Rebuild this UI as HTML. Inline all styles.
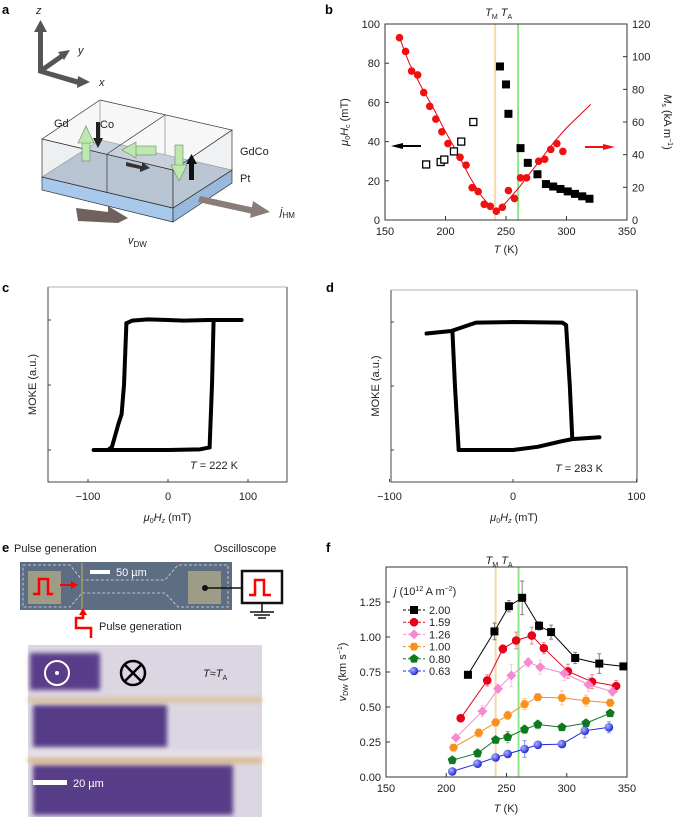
<!DOCTYPE html>
<html><head><meta charset="utf-8"><style>
body{margin:0;background:#fff}
svg{display:block;font-family:"Liberation Sans",sans-serif}
.t{font-size:11px;fill:#222}
.pl{font-size:13px;font-weight:bold;font-family:"Liberation Sans",sans-serif}
</style></head><body>
<svg id="fig" width="685" height="817" viewBox="0 0 685 817">
<defs>
<filter id="bl" x="-10%" y="-10%" width="120%" height="120%"><feGaussianBlur stdDeviation="2.5"/></filter>
<radialGradient id="bg" cx="0.35" cy="0.35" r="0.7"><stop offset="0" stop-color="#aab4ff"/><stop offset="1" stop-color="#1a22d0"/></radialGradient>
</defs>
<text class="pl" x="2" y="14">a</text>
<text class="pl" x="325" y="14">b</text>
<text class="pl" x="2" y="292">c</text>
<text class="pl" x="326" y="292">d</text>
<text class="pl" x="2" y="552">e</text>
<text class="pl" x="326" y="552">f</text>

<g>
 <g fill="#555" stroke="#555">
  <rect x="38" y="30" width="5" height="42" stroke="none"/>
  <polygon points="34,32 40.5,20 47,32" stroke="none"/>
  <polygon points="38,68 80,80 78,85 38,73" stroke="none"/>
  <polygon points="78,76 90,82 77,88" stroke="none"/>
  <line x1="42" y1="70" x2="62" y2="56" stroke-width="5"/>
  <polygon points="58,52 70,50 64,60" stroke="none"/>
  <text x="36" y="14" class="t" font-style="italic" stroke="none" fill="#222">z</text>
  <text x="78" y="54" class="t" font-style="italic" stroke="none" fill="#222">y</text>
  <text x="99" y="86" class="t" font-style="italic" stroke="none" fill="#222">x</text>
 </g>
 <g stroke="#333" stroke-width="0.7">
  <polygon points="42,177 173,208 173,222 42,190" fill="#a8c8ec"/>
  <polygon points="173,208 232,170 232,183 173,222" fill="#98b8dc"/>
  <polygon points="42,177 100,140 232,170 173,208" fill="#8a9fb8"/>
  <polygon points="42,139 173,170 173,208 42,177" fill="#dfe2e6" fill-opacity="0.55"/>
  <polygon points="173,170 232,130 232,170 173,208" fill="#e4e6e9" fill-opacity="0.55"/>
  <polygon points="42,139 100,100 232,130 173,170" fill="#f2f2f2" fill-opacity="0.6"/>
  <line x1="100" y1="100" x2="100" y2="140" stroke="#888"/>
  <line x1="165" y1="115" x2="107" y2="154" />
  <line x1="107" y1="154" x2="107" y2="193"/>
  <line x1="165" y1="115" x2="165" y2="155" stroke="#888"/>
 </g>
 <g>
  <rect x="82" y="141" width="8" height="20" fill="#bfe8b0" stroke="#6a8a60" stroke-width="0.6"/>
  <polygon points="78,143 86,126 94,143" fill="#bfe8b0" stroke="#6a8a60" stroke-width="0.6"/>
  <rect x="96" y="122" width="4" height="18" fill="#222"/><polygon points="93,138 98,148 103,138" fill="#222"/>
  <rect x="134" y="146" width="22" height="9" fill="#bfe8b0" stroke="#6a8a60" stroke-width="0.6"/>
  <polygon points="136,142 122,150 136,158" fill="#bfe8b0" stroke="#6a8a60" stroke-width="0.6"/>
  <polygon points="126,162 142,166 142,162 150,168 140,172 140,169 126,166" fill="#333"/>
  <rect x="175" y="145" width="8" height="22" fill="#bfe8b0" stroke="#6a8a60" stroke-width="0.6"/>
  <polygon points="171,165 179,181 187,165" fill="#bfe8b0" stroke="#6a8a60" stroke-width="0.6"/>
  <rect x="189" y="162" width="5" height="18" fill="#111"/><polygon points="186,164 191.5,154 197,164" fill="#111"/>
 </g>
 <g>
  <polygon points="200,196 255,208 253,214 198,202" fill="#8a7d78"/>
  <polygon points="253,201 270,212 250,218" fill="#8a7d78"/>
  <polygon points="76,208 108,212 108,206 128,218 118,223 78,221" fill="#6f625e"/>
 </g>
 <text class="t" x="54" y="127">Gd</text>
 <text class="t" x="100" y="128">Co</text>
 <text class="t" x="240" y="155">GdCo</text>
 <text class="t" x="240" y="182">Pt</text>
 <text class="t" x="280" y="215" font-style="italic">j<tspan font-size="8" dy="3" font-style="normal">HM</tspan></text>
 <text class="t" x="128" y="244" font-style="italic">v<tspan font-size="8" dy="3" font-style="normal">DW</tspan></text>
</g>

<g id="pb"></g>
<g id="pc"></g>
<g id="pd"></g>

<g>
 <text class="t" x="14" y="552" font-size="11">Pulse generation</text>
 <text class="t" x="214" y="552">Oscilloscope</text>
 <rect x="20" y="562" width="212" height="48" fill="#5d6d84"/>
 <rect x="28" y="571" width="33" height="33" fill="#9d9c86"/>
 <rect x="188" y="571" width="33" height="33" fill="#9d9c86"/>
 <path d="M23,565 H70 L82,580 H165 L178,565 H228 V607 H178 L165,593 H82 L70,607 H23 Z" fill="none" stroke="#ddd" stroke-width="0.8" stroke-dasharray="3,2"/>
 <line x1="82" y1="563" x2="82" y2="609" stroke="#a89a60" stroke-width="1.5"/>
 <rect x="90" y="570" width="20" height="4" fill="#fff"/>
 <text x="116" y="576" font-size="11" fill="#fff">50 µm</text>
 <path d="M33,594 H39 V579 H48 V594 H53" fill="none" stroke="#f00" stroke-width="2.5"/>
 <path d="M60,585 H72" stroke="#f00" stroke-width="2"/><polygon points="71,581 78,585 71,589" fill="#f00"/>
 <path d="M91,638 V628 H76 V618 H83 V614" fill="none" stroke="#f00" stroke-width="2.5"/><polygon points="79,615 83,608 87,615" fill="#f00"/>
 <text class="t" x="99" y="630" font-size="11">Pulse generation</text>
 <circle cx="205" cy="588" r="3" fill="#111"/><line x1="205" y1="588" x2="242" y2="588" stroke="#111" stroke-width="1.5"/>
 <rect x="242" y="571" width="40" height="32" fill="#fff" stroke="#111" stroke-width="2.5"/>
 <path d="M249,595 H255 V580 H264 V595 H271" fill="none" stroke="#f00" stroke-width="2.5"/>
 <line x1="262" y1="603" x2="262" y2="612" stroke="#111" stroke-width="1.5"/>
 <line x1="250" y1="612" x2="274" y2="612" stroke="#111" stroke-width="1.5"/>
 <line x1="254" y1="615" x2="270" y2="615" stroke="#111" stroke-width="1.5"/>
 <line x1="258" y1="618" x2="266" y2="618" stroke="#111" stroke-width="1.5"/>
</g>
<g>
 <rect x="28" y="645" width="234" height="172" fill="#dcd6e2"/>
 <g filter="url(#bl)">
  <rect x="30" y="653" width="70" height="37" fill="#5a3d8a"/>
  <rect x="33" y="705" width="134" height="42" fill="#553a86"/>
  <rect x="33" y="765" width="200" height="50" fill="#583c88"/>
  <rect x="28" y="698" width="234" height="4" fill="#d8c08a"/>
  <rect x="28" y="758" width="234" height="5" fill="#dcb880"/>
  <rect x="28" y="752" width="234" height="3" fill="#f0eef2"/>
 </g>
 <circle cx="57" cy="673" r="12" fill="none" stroke="#fff" stroke-width="2"/><circle cx="57" cy="673" r="2" fill="#fff"/>
 <circle cx="133" cy="673" r="12" fill="none" stroke="#000" stroke-width="2.5"/>
 <line x1="124.5" y1="664.5" x2="141.5" y2="681.5" stroke="#000" stroke-width="2.5"/><line x1="141.5" y1="664.5" x2="124.5" y2="681.5" stroke="#000" stroke-width="2.5"/>
 <text class="t" x="203" y="677" font-size="10"><tspan font-style="italic">T</tspan>≈<tspan font-style="italic">T</tspan><tspan font-size="7" dy="3">A</tspan></text>
 <rect x="33" y="780" width="34" height="5" fill="#fff"/>
 <text x="73" y="787" font-size="11" fill="#fff">20 µm</text>
</g>

<g id="pf"></g>
</svg>
<script>
const bHcT = [162,167,172,177,182,187,192,197,202,212,217,222,227,232,237,242,247,252,257,262,267,277,282,287,292,297];
const bHc  = [93,86,76,74,65,58,51.5,45,39,32,28,16.5,14.5,8,7,4.5,6.5,15,11,21.5,21.5,30,31,36,39,35];
const bFitT = [162,170,180,190,200,210,220,230,240,243,250,260,270,280,290,300,310,320];
const bFitHc= [93,80,68,57,45,34,22,12,5,5,9,16,24,32,40,47,53,59];
const bMsT = [245,250,252,262,268,276,283,289,295,301,307,313,319];
const bMs  = [94,83,65,44,35,28,22,20.5,19,17.5,16,14.5,13];
const bMsOpenT = [184,196,199,207,213,223];
const bMsOpen  = [34,35.5,37,42,48,60];
const bXTicks = [150,200,250,300,350];
const bYTicks = [0,20,40,60,80,100];
const bRTicks = [0,20,40,60,80,100,120];
const bTM = 241, bTA = 260;

const cTopH = [-52,-45,-25,0,20,50,92];
const cTopM = [0.95,0.99,1.01,1.0,0.99,1.0,1.0];
const cRightH = [57,55,52];
const cRightM = [1.0,0.0,-0.96];
const cBotH = [52,40,0,-60,-93];
const cBotM = [-0.96,-0.99,-1.0,-1.0,-1.0];
const cLeftH = [-75,-70,-62,-58,-55,-52];
const cLeftM = [-1.0,-0.95,-0.6,-0.45,0,0.95];
const dTopH = [-70,-50,-30,0,40,43];
const dTopM = [0.82,0.86,0.99,1.0,0.99,0.95];
const dRightH = [43,46,48];
const dRightM = [0.95,0,-0.82];
const dBotH = [70,48,40,20,0,-44];
const dBotM = [-0.8,-0.83,-0.86,-0.95,-1.0,-1.0];
const dLeftH = [-49,-47,-44];
const dLeftM = [0.84,0,-1.0];
const cdXTicks = [-100,0,100];

const fLabels = ["2.00","1.59","1.26","1.00","0.80","0.63"];
const fColors = ["#000","#e8001a","#f58ad0","#f7901e","#0e7a1e","#1b2be0"];
const fT = [
 [218,240,252,263,277,287,307,327,347],
 [212,234,247,258,271,281,301,321,341],
 [208,230,243,254,268,278,298,318,338],
 [206,227,241,251,265,276,296,316,336],
 [205,226,241,251,265,276,296,316,336],
 [205,226,241,251,265,276,296,315,335]];
const fV = [
 [0.73,1.04,1.22,1.28,1.08,1.035,0.85,0.81,0.79],
 [0.42,0.69,0.915,0.975,1.01,0.92,0.755,0.68,0.65],
 [0.28,0.47,0.63,0.725,0.82,0.785,0.74,0.66,0.61],
 [0.21,0.315,0.39,0.44,0.52,0.57,0.565,0.545,0.53],
 [0.12,0.17,0.265,0.285,0.34,0.375,0.355,0.385,0.455],
 [0.04,0.095,0.14,0.165,0.2,0.23,0.235,0.33,0.355]];
const fErr = [
 [0,0.06,0.04,0.12,0.03,0.05,0.04,0.07,0],
 [0,0.04,0.03,0.06,0.06,0.04,0.05,0.05,0.04],
 [0,0.04,0.03,0.08,0.03,0.05,0.05,0.05,0.03],
 [0,0.03,0.02,0.03,0.04,0.02,0.05,0.04,0.02],
 [0,0.03,0.02,0.04,0.03,0.03,0.02,0.02,0.02],
 [0,0.02,0.02,0.02,0.06,0.02,0.02,0.05,0.04]];
const fXTicks = [150,200,250,300,350];
const fYTicks = [0,0.25,0.5,0.75,1.0,1.25];
const fTM = 241, fTA = 260;

const NS="http://www.w3.org/2000/svg";
function mk(p,tag,at,txt){const e=document.createElementNS(NS,tag);for(const k in at)e.setAttribute(k,at[k]);if(txt!==undefined)e.textContent=txt;p.appendChild(e);return e;}

(function(){
 const g=document.getElementById('pb');
 const L=385,R=627,T=24,B=220;
 const x=t=>L+(t-150)/200*(R-L), y=v=>B-v/100*(B-T), yr=v=>B-v/120*(B-T);
 let e;
 e=mk(g,'line',{x1:x(bTM),x2:x(bTM),y1:T,y2:B,stroke:'#f8d8a8','stroke-width':2});
  
 e=mk(g,'line',{x1:x(bTA),x2:x(bTA),y1:T,y2:B,stroke:'#8ee88a','stroke-width':2});
  
 e=mk(g,'rect',{x:L,y:T,width:R-L,height:B-T,fill:'none',stroke:'#333','stroke-width':1});
  
 bXTicks.forEach(t=>{mk(g,'line',{x1:x(t),x2:x(t),y1:B,y2:B-4,stroke:'#333'});
  e=mk(g,'text',{x:x(t),y:B+15,'text-anchor':'middle',class:'t'},t);
   });
 bYTicks.forEach(v=>{mk(g,'line',{x1:L,x2:L+4,y1:y(v),y2:y(v),stroke:'#333'});
  e=mk(g,'text',{x:L-5,y:y(v)+4,'text-anchor':'end',class:'t'},v);
   });
 bRTicks.forEach(v=>{mk(g,'line',{x1:R,x2:R-4,y1:yr(v),y2:yr(v),stroke:'#333'});
  e=mk(g,'text',{x:R+5,y:yr(v)+4,class:'t'},v);
   });
 e=mk(g,'polyline',{points:bFitT.map((t,i)=>x(t)+','+y(bFitHc[i])).join(' '),fill:'none',stroke:'#e8001a','stroke-width':1});
  
 bHcT.forEach((t,i)=>{e=mk(g,'circle',{cx:x(t),cy:y(bHc[i]),r:3.8,fill:'#f01010'});
   });
 bMsT.forEach((t,i)=>{e=mk(g,'rect',{x:x(t)-4,y:yr(bMs[i])-4,width:8,height:8,fill:'#000'});
   });
 bMsOpenT.forEach((t,i)=>{e=mk(g,'rect',{x:x(t)-3.5,y:yr(bMsOpen[i])-3.5,width:7,height:7,fill:'#fff',stroke:'#000','stroke-width':1.3});
   });
 mk(g,'line',{x1:402,x2:421,y1:146,y2:146,stroke:'#000','stroke-width':2});
 mk(g,'polygon',{points:'391,146 403,143 403,149',fill:'#000'});
 mk(g,'line',{x1:585,x2:604,y1:147,y2:147,stroke:'#f01010','stroke-width':2});
 mk(g,'polygon',{points:'615,147 603,144 603,150',fill:'#f01010'});
 e=mk(g,'text',{x:x(bTM)-10,y:16,class:'t'});e.innerHTML='<tspan font-style="italic">T</tspan><tspan font-size="7" dy="3">M</tspan><tspan dy="-3"> </tspan><tspan font-style="italic">T</tspan><tspan font-size="7" dy="3">A</tspan>';
  
 e=mk(g,'text',{x:506,y:253,'text-anchor':'middle',class:'t'});e.innerHTML='<tspan font-style="italic">T</tspan> (K)';
  
 e=mk(g,'text',{transform:'translate(348,122) rotate(-90)','text-anchor':'middle',class:'t','font-size':'10'});e.innerHTML='<tspan font-style="italic">μ</tspan><tspan font-size="7" dy="2">0</tspan><tspan dy="-2" font-style="italic">H</tspan><tspan font-size="7" dy="2">c</tspan><tspan dy="-2"> (mT)</tspan>';
  
 e=mk(g,'text',{transform:'translate(664,122) rotate(90)','text-anchor':'middle',class:'t','font-size':'10'});e.innerHTML='<tspan font-style="italic">M</tspan><tspan font-size="7" dy="2">s</tspan><tspan dy="-2"> (kA m</tspan><tspan font-size="7" dy="-4">−1</tspan><tspan dy="4">)</tspan>';
  
})();

function loop(id,L,R,T,B,x0,ppu,yTop,yBot,segs,tLabel,tx,ty){
 const g=document.getElementById(id);
 const x=h=>x0+h*ppu, ym=(yTop+yBot)/2, y=m=>ym-m*(ym-yTop);
 let e;
 e=mk(g,'polyline',{points:`${L},${T} ${L},${B} ${R},${B} ${R},${T}`,fill:'none',stroke:'#444','stroke-width':1});
  
 mk(g,'line',{x1:L,x2:R,y1:T,y2:T,stroke:'#999','stroke-width':0.8});
 cdXTicks.forEach(t=>{mk(g,'line',{x1:x(t),x2:x(t),y1:B,y2:B-3,stroke:'#444'});
  e=mk(g,'text',{x:x(t),y:B+18,'text-anchor':'middle',class:'t'},t<0?'−'+(-t):t);
   });
 [1,0,-1].forEach(m=>mk(g,'line',{x1:L,x2:L+3,y1:y(m),y2:y(m),stroke:'#444'}));
 segs.forEach(s=>{e=mk(g,'polyline',{points:s[0].map((h,i)=>x(h)+','+y(s[1][i])).join(' '),fill:'none',stroke:'#000','stroke-width':4,'stroke-linejoin':'round','stroke-linecap':'round'});
   });
 e=mk(g,'text',{x:tx,y:ty,class:'t'});e.innerHTML='<tspan font-style="italic">T</tspan> = '+tLabel+' K';
  
 e=mk(g,'text',{x:(L+R)/2,y:B+39,'text-anchor':'middle',class:'t'});e.innerHTML='<tspan font-style="italic">μ</tspan><tspan font-size="7" dy="2">0</tspan><tspan dy="-2" font-style="italic">H</tspan><tspan font-size="7" dy="2" font-style="italic">z</tspan><tspan dy="-2"> (mT)</tspan>';
  
 e=mk(g,'text',{transform:`translate(${L-12},${(T+B)/2}) rotate(-90)`,'text-anchor':'middle',class:'t'},'MOKE (a.u.)');
  
}
loop('pc',48,287,287,482,168,0.8,320,450,[[cTopH,cTopM],[cRightH,cRightM],[cBotH,cBotM],[cLeftH,cLeftM]],'222',190,469);
loop('pd',391,637,290,482,513,1.235,322,450,[[dTopH,dTopM],[dRightH,dRightM],[dBotH,dBotM],[dLeftH,dLeftM]],'283',555,472);

(function(){
 const g=document.getElementById('pf');
 const L=386,R=627,T=567,B=777;
 const x=t=>L+(t-150)/200*(R-L), y=v=>B-v*140;
 let e;
 e=mk(g,'line',{x1:x(fTM),x2:x(fTM),y1:T,y2:B,stroke:'#f8d8a8','stroke-width':2});
  
 e=mk(g,'line',{x1:x(fTA),x2:x(fTA),y1:T,y2:B,stroke:'#8ee88a','stroke-width':2});
  
 e=mk(g,'rect',{x:L,y:T,width:R-L,height:B-T,fill:'none',stroke:'#333','stroke-width':1});
  
 fXTicks.forEach(t=>{mk(g,'line',{x1:x(t),x2:x(t),y1:B,y2:B-4,stroke:'#333'});
  e=mk(g,'text',{x:x(t),y:B+15,'text-anchor':'middle',class:'t'},t);
   });
 fYTicks.forEach(v=>{mk(g,'line',{x1:L,x2:L+4,y1:y(v),y2:y(v),stroke:'#333'});
  e=mk(g,'text',{x:L-5,y:y(v)+4,'text-anchor':'end',class:'t'},v.toFixed(2));
   });
 function marker(k,cx,cy){
  const c=fColors[k]; let m;
  if(k===0) m=mk(g,'rect',{x:cx-4,y:cy-4,width:8,height:8,fill:c});
  else if(k===1) m=mk(g,'circle',{cx:cx,cy:cy,r:4.3,fill:c});
  else if(k===2) m=mk(g,'polygon',{points:`${cx},${cy-5} ${cx+5},${cy} ${cx},${cy+5} ${cx-5},${cy}`,fill:c});
  else if(k===3) m=mk(g,'polygon',{points:[0,1,2,3,4,5].map(i=>(cx+4.5*Math.cos(i*Math.PI/3))+','+(cy+4.5*Math.sin(i*Math.PI/3))).join(' '),fill:c});
  else if(k===4) m=mk(g,'polygon',{points:[0,1,2,3,4].map(i=>(cx+4.8*Math.sin(i*2*Math.PI/5))+','+(cy-4.8*Math.cos(i*2*Math.PI/5))).join(' '),fill:c});
  else m=mk(g,'circle',{cx:cx,cy:cy,r:4.3,fill:'url(#bg)'});
  return m;
 }
 fT.forEach((ts,k)=>{
  e=mk(g,'polyline',{points:ts.map((t,i)=>x(t)+','+y(fV[k][i])).join(' '),fill:'none',stroke:fColors[k],'stroke-width':1});
   
  ts.forEach((t,i)=>{const er=fErr[k][i];
   if(er>0){e=mk(g,'path',{d:`M${x(t)},${y(fV[k][i]+er)}V${y(fV[k][i]-er)}M${x(t)-2},${y(fV[k][i]+er)}h4M${x(t)-2},${y(fV[k][i]-er)}h4`,stroke:fColors[k],'stroke-opacity':0.5,fill:'none','stroke-width':1});
     }
   e=marker(k,x(t),y(fV[k][i]));
    });
 });
 e=mk(g,'text',{x:394,y:595,class:'t'});e.innerHTML='<tspan font-style="italic">j</tspan> (10<tspan font-size="7" dy="-4">12</tspan><tspan dy="4"> A m</tspan><tspan font-size="7" dy="-4">−2</tspan><tspan dy="4">)</tspan>';
  
 fLabels.forEach((lab,k)=>{const ly=610+k*12.2;
  mk(g,'line',{x1:403,x2:425,y1:ly,y2:ly,stroke:fColors[k],'stroke-width':1,'stroke-dasharray':'3,2'});
  marker(k,414,ly);
  e=mk(g,'text',{x:429,y:ly+4,class:'t','font-size':'10'},lab);
   });
 e=mk(g,'text',{x:x(fTM)-10,y:564,class:'t'});e.innerHTML='<tspan font-style="italic">T</tspan><tspan font-size="7" dy="3">M</tspan><tspan dy="-3"> </tspan><tspan font-style="italic">T</tspan><tspan font-size="7" dy="3">A</tspan>';
  
 e=mk(g,'text',{x:506,y:812,'text-anchor':'middle',class:'t'});e.innerHTML='<tspan font-style="italic">T</tspan> (K)';
  
 e=mk(g,'text',{transform:'translate(346,672) rotate(-90)','text-anchor':'middle',class:'t'});e.innerHTML='<tspan font-style="italic">v</tspan><tspan font-size="7" dy="2">DW</tspan><tspan dy="-2"> (km s</tspan><tspan font-size="7" dy="-4">−1</tspan><tspan dy="4">)</tspan>';
  
})();
</script>
</body></html>
